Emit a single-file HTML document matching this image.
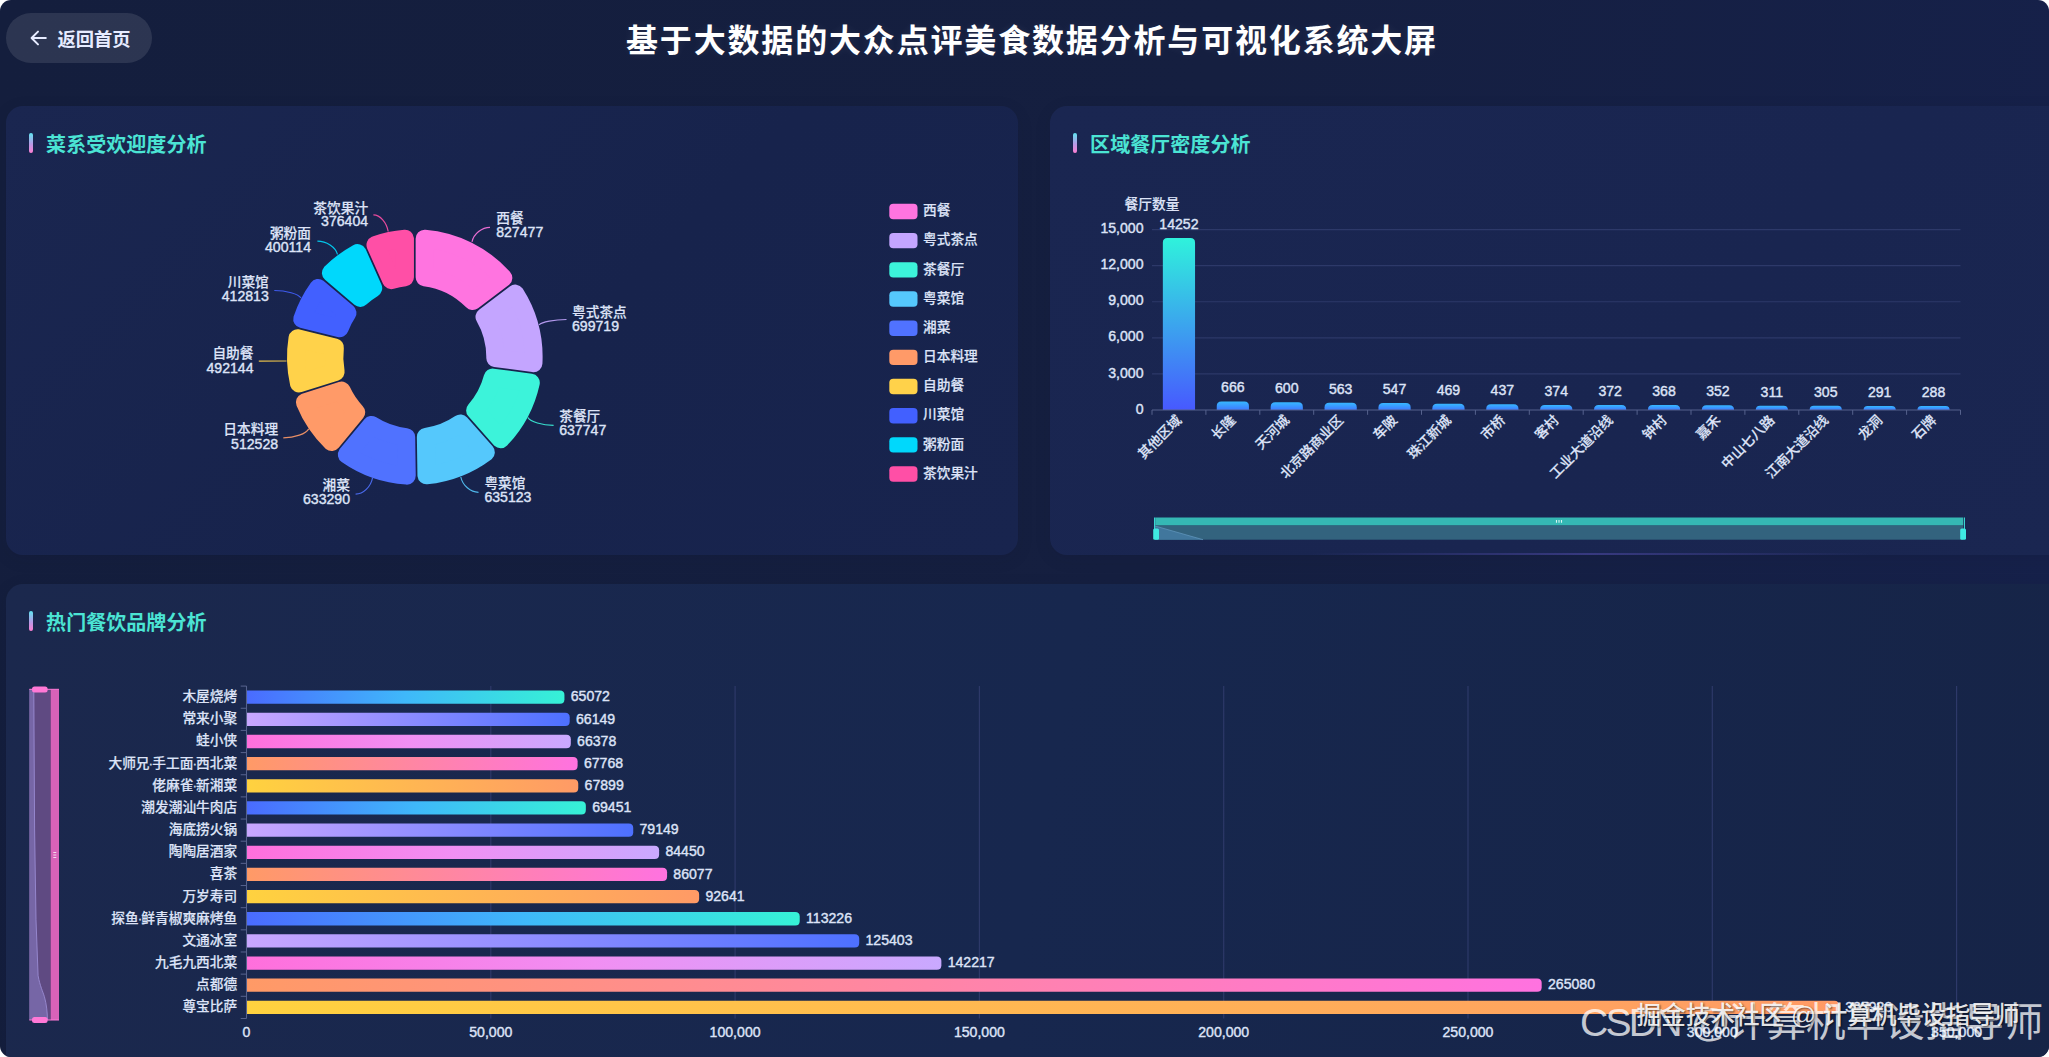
<!DOCTYPE html>
<html lang="zh-CN"><head><meta charset="utf-8"><title>基于大数据的大众点评美食数据分析与可视化系统大屏</title>
<style>
html,body{margin:0;padding:0;background:#fff;}
body{width:2049px;height:1057px;overflow:hidden;font-family:"Liberation Sans","Noto Sans CJK SC",sans-serif;}
#app{position:absolute;left:0;top:0;width:2049px;height:1057px;overflow:hidden;border-radius:11px;background:linear-gradient(100deg,#141e3d 0%,#151f40 55%,#16214b 100%);}
.panel{position:absolute;border-radius:17px;box-shadow:0 4px 18px rgba(8,12,36,0.08);}
#p1{left:6px;top:106px;width:1012px;height:449px;background:linear-gradient(135deg,#1a2650 0%,#17234c 55%,#18244e 100%);}
#p2{left:1050px;top:106px;width:1016px;height:449px;background:linear-gradient(135deg,#1a2651 0%,#192550 60%,#1a2651 100%);}
#p3{left:6px;top:584px;width:2060px;height:520px;background:linear-gradient(100deg,#1b284d 0%,#17274e 50%,#162447 100%);}
.pt{position:absolute;left:22.5px;top:26.8px;height:20.5px;padding-left:17.6px;font-size:20px;line-height:25.4px;font-weight:700;color:#4be4d4;white-space:nowrap;letter-spacing:0.05px;}
.pt:before{content:"";position:absolute;left:0;top:0;width:4.9px;height:20.5px;border-radius:2.5px;background:linear-gradient(180deg,#5fe6f2 0%,#b79be6 55%,#ff7ed2 100%);}
#back{position:absolute;left:6px;top:13px;width:146px;height:50px;border-radius:25px;background:rgba(255,255,255,0.105);color:#e6ebff;font-size:18.3px;font-weight:700;line-height:50px;}
#back span{position:absolute;left:51.4px;top:1.8px;white-space:nowrap;}
#back svg{position:absolute;left:24px;top:17px;}
#title{position:absolute;left:0;top:16.6px;width:2064px;text-align:center;font-size:32px;line-height:48px;font-weight:700;color:#fff;letter-spacing:1.83px;white-space:nowrap;text-shadow:0 0 8px rgba(255,255,255,0.07);}
svg text{font-family:"Liberation Sans","Noto Sans CJK SC",sans-serif;}
svg .c{font-size:13.7px;font-weight:500;stroke:#dde3f7;stroke-width:0.18px;}
svg .n{font-size:14.1px;stroke:#dde3f7;stroke-width:0.4px;}
#chart{position:absolute;left:0;top:0;}
.wm1{position:absolute;left:1580px;top:995.2px;font-size:39.2px;line-height:54px;color:rgba(255,255,255,0.77);white-space:nowrap;}
.wm1 .l{letter-spacing:-2.8px;}
.wm1 .z{margin-left:-3.5px;font-size:39.55px;}
.wm2{position:absolute;left:1636.6px;top:997.6px;font-size:24.6px;line-height:36px;font-weight:500;color:rgba(255,255,255,0.88);white-space:nowrap;text-shadow:1px 1px 2px rgba(0,0,0,0.6);}
</style></head><body>
<div id="app">
<div id="back"><svg width="18" height="16" viewBox="0 0 18 16"><path d="M15.8 8H2.2M8 1.6L1.6 8L8 14.4" fill="none" stroke="#e6ebff" stroke-width="2" stroke-linecap="round" stroke-linejoin="round"/></svg><span>返回首页</span></div>
<div id="title">基于大数据的大众点评美食数据分析与可视化系统大屏</div>
<div class="panel" id="p1"><div class="pt">菜系受欢迎度分析</div></div>
<div class="panel" id="p2"><div class="pt">区域餐厅密度分析</div></div>
<div style="position:absolute;left:1310px;top:553.4px;width:560px;height:1.6px;background:linear-gradient(90deg,rgba(120,100,230,0),rgba(120,100,230,0.32) 50%,rgba(120,100,230,0));"></div>
<div class="panel" id="p3"><div class="pt">热门餐饮品牌分析</div></div>
<svg id="chart" width="2049" height="1057" viewBox="0 0 2049 1057">
<defs>
<linearGradient id="gB" x1="0" y1="0" x2="0" y2="1"><stop offset="0" stop-color="#2ff2dc"/><stop offset="1" stop-color="#4759ff"/></linearGradient>
<linearGradient id="gS" x1="0" y1="0" x2="0" y2="1"><stop offset="0" stop-color="#36b8ff"/><stop offset="1" stop-color="#3f78ff"/></linearGradient>
<linearGradient id="h0" x1="0" y1="0" x2="1" y2="0"><stop offset="0" stop-color="#4a6bff"/><stop offset="0.5" stop-color="#3fb8fa"/><stop offset="1" stop-color="#36f2d6"/></linearGradient>
<linearGradient id="h1" x1="0" y1="0" x2="1" y2="0"><stop offset="0" stop-color="#c9a7ff"/><stop offset="1" stop-color="#4d70ff"/></linearGradient>
<linearGradient id="h2" x1="0" y1="0" x2="1" y2="0"><stop offset="0" stop-color="#ff6fdc"/><stop offset="0.5" stop-color="#f18ff3"/><stop offset="1" stop-color="#c9a9ff"/></linearGradient>
<linearGradient id="h3" x1="0" y1="0" x2="1" y2="0"><stop offset="0" stop-color="#ff9a66"/><stop offset="1" stop-color="#ff72e0"/></linearGradient>
<linearGradient id="h4" x1="0" y1="0" x2="1" y2="0"><stop offset="0" stop-color="#ffd23f"/><stop offset="1" stop-color="#ff9a66"/></linearGradient>
</defs>
<g id="pie">
<path d="M424.65 238.71A118.8 118.8 0 0 1 503.34 277.89L472.62 301.09A80.5 80.5 0 0 0 424.65 277.2Z" fill="#ff74e0" stroke="#ff74e0" stroke-width="18" stroke-linejoin="round"/>
<path d="M515.21 293.61A118.8 118.8 0 0 1 533.44 363.2L495.29 358.04A80.5 80.5 0 0 0 484.49 316.81Z" fill="#c4a5ff" stroke="#c4a5ff" stroke-width="18" stroke-linejoin="round"/>
<path d="M530.8 382.72A118.8 118.8 0 0 1 500.63 439.24L475.12 410.41A80.5 80.5 0 0 0 492.66 377.57Z" fill="#3cf3da" stroke="#3cf3da" stroke-width="18" stroke-linejoin="round"/>
<path d="M485.87 452.29A118.8 118.8 0 0 1 426.45 475.33L425.86 436.84A80.5 80.5 0 0 0 460.36 423.46Z" fill="#55c8fc" stroke="#55c8fc" stroke-width="18" stroke-linejoin="round"/>
<path d="M406.75 475.63A118.8 118.8 0 0 1 346.85 454.55L371.41 424.91A80.5 80.5 0 0 0 406.17 437.14Z" fill="#5072ff" stroke="#5072ff" stroke-width="18" stroke-linejoin="round"/>
<path d="M331.68 441.98A118.8 118.8 0 0 1 304.9 402.23L341.61 390.61A80.5 80.5 0 0 0 356.24 412.34Z" fill="#ff9a68" stroke="#ff9a68" stroke-width="18" stroke-linejoin="round"/>
<path d="M298.96 383.45A118.8 118.8 0 0 1 297.51 338.19L334.88 347.45A80.5 80.5 0 0 0 335.66 371.83Z" fill="#ffd24a" stroke="#ffd24a" stroke-width="18" stroke-linejoin="round"/>
<path d="M302.25 319.07A118.8 118.8 0 0 1 318.16 288L347.51 312.91A80.5 80.5 0 0 0 339.62 328.33Z" fill="#4260ff" stroke="#4260ff" stroke-width="18" stroke-linejoin="round"/>
<path d="M330.91 272.98A118.8 118.8 0 0 1 357.5 253.03L373.21 288.18A80.5 80.5 0 0 0 360.26 297.89Z" fill="#00d8fc" stroke="#00d8fc" stroke-width="18" stroke-linejoin="round"/>
<path d="M375.49 244.99A118.8 118.8 0 0 1 404.95 238.71L404.95 277.2A80.5 80.5 0 0 0 391.2 280.14Z" fill="#ff4fa6" stroke="#ff4fa6" stroke-width="18" stroke-linejoin="round"/>
</g>
<g id="pielabels" fill="#dde3f7">
<path d="M490 227.3C481.9 227.3 473.8 233.83 472 241.8" fill="none" stroke="#ff74e0" stroke-width="1.2" opacity="0.9"/>
<text x="496.2" y="222.8" text-anchor="start" class="c">西餐</text>
<text x="496.2" y="237.4" text-anchor="start" class="n">827477</text>
<path d="M566.5 319.5C554.17 319.5 541.84 321.88 539.1 324.8" fill="none" stroke="#c4a5ff" stroke-width="1.2" opacity="0.9"/>
<text x="572" y="316.7" text-anchor="start" class="c">粤式茶点</text>
<text x="572" y="330.7" text-anchor="start" class="n">699719</text>
<path d="M553.6 425.3C542.03 425.3 530.47 421.79 527.9 417.5" fill="none" stroke="#3cf3da" stroke-width="1.2" opacity="0.9"/>
<text x="559.2" y="420.5" text-anchor="start" class="c">茶餐厅</text>
<text x="559.2" y="435.2" text-anchor="start" class="n">637747</text>
<path d="M478.5 492.3C470.54 492.3 462.57 485.42 460.8 477" fill="none" stroke="#55c8fc" stroke-width="1.2" opacity="0.9"/>
<text x="484.4" y="488.2" text-anchor="start" class="c">粤菜馆</text>
<text x="484.4" y="502.4" text-anchor="start" class="n">635123</text>
<path d="M355.6 494.1C363.21 494.1 370.81 486.86 372.5 478" fill="none" stroke="#5072ff" stroke-width="1.2" opacity="0.9"/>
<text x="350" y="489.7" text-anchor="end" class="c">湘菜</text>
<text x="350" y="503.7" text-anchor="end" class="n">633290</text>
<path d="M283.3 437.8C294.73 437.8 306.16 433.8 308.7 428.9" fill="none" stroke="#ff9a68" stroke-width="1.2" opacity="0.9"/>
<text x="278.1" y="434.2" text-anchor="end" class="c">日本料理</text>
<text x="278.1" y="448.5" text-anchor="end" class="n">512528</text>
<path d="M258.8 361.1C271.26 361.1 283.73 361.06 286.5 361" fill="none" stroke="#ffd24a" stroke-width="1.2" opacity="0.9"/>
<text x="253.5" y="358.4" text-anchor="end" class="c">自助餐</text>
<text x="253.5" y="372.6" text-anchor="end" class="n">492144</text>
<path d="M274.3 290.5C286.31 290.5 298.33 293.88 301 298" fill="none" stroke="#4260ff" stroke-width="1.2" opacity="0.9"/>
<text x="268.8" y="287.2" text-anchor="end" class="c">川菜馆</text>
<text x="268.8" y="301.3" text-anchor="end" class="n">412813</text>
<path d="M317.4 241.1C326.44 241.1 335.49 247.04 337.5 254.3" fill="none" stroke="#00d8fc" stroke-width="1.2" opacity="0.9"/>
<text x="311" y="237.6" text-anchor="end" class="c">粥粉面</text>
<text x="311" y="251.9" text-anchor="end" class="n">400114</text>
<path d="M373.4 214.9C380.06 214.9 386.72 222.37 388.2 231.5" fill="none" stroke="#ff4fa6" stroke-width="1.2" opacity="0.9"/>
<text x="368.1" y="212.7" text-anchor="end" class="c">茶饮果汁</text>
<text x="368.1" y="226.2" text-anchor="end" class="n">376404</text>
</g>
<g id="legend">
<rect x="889.3" y="203.8" width="28.2" height="15.4" rx="4" fill="#ff74e0"/>
<text x="923" y="215.2" class="c" fill="#dde3f7">西餐</text>
<rect x="889.3" y="232.97" width="28.2" height="15.4" rx="4" fill="#c4a5ff"/>
<text x="923" y="244.37" class="c" fill="#dde3f7">粤式茶点</text>
<rect x="889.3" y="262.14" width="28.2" height="15.4" rx="4" fill="#3cf3da"/>
<text x="923" y="273.54" class="c" fill="#dde3f7">茶餐厅</text>
<rect x="889.3" y="291.31" width="28.2" height="15.4" rx="4" fill="#55c8fc"/>
<text x="923" y="302.71" class="c" fill="#dde3f7">粤菜馆</text>
<rect x="889.3" y="320.48" width="28.2" height="15.4" rx="4" fill="#5072ff"/>
<text x="923" y="331.88" class="c" fill="#dde3f7">湘菜</text>
<rect x="889.3" y="349.65" width="28.2" height="15.4" rx="4" fill="#ff9a68"/>
<text x="923" y="361.05" class="c" fill="#dde3f7">日本料理</text>
<rect x="889.3" y="378.82" width="28.2" height="15.4" rx="4" fill="#ffd24a"/>
<text x="923" y="390.22" class="c" fill="#dde3f7">自助餐</text>
<rect x="889.3" y="407.99" width="28.2" height="15.4" rx="4" fill="#4260ff"/>
<text x="923" y="419.39" class="c" fill="#dde3f7">川菜馆</text>
<rect x="889.3" y="437.16" width="28.2" height="15.4" rx="4" fill="#00d8fc"/>
<text x="923" y="448.56" class="c" fill="#dde3f7">粥粉面</text>
<rect x="889.3" y="466.33" width="28.2" height="15.4" rx="4" fill="#ff4fa6"/>
<text x="923" y="477.73" class="c" fill="#dde3f7">茶饮果汁</text>
</g>
<g id="bar1">
<text x="1143.5" y="413.6" text-anchor="end" class="n" fill="#dde3f7">0</text>
<line x1="1152" x2="1960.5" y1="373.92" y2="373.92" stroke="#2d3969" stroke-width="1.2"/>
<text x="1143.5" y="377.52" text-anchor="end" class="n" fill="#dde3f7">3,000</text>
<line x1="1152" x2="1960.5" y1="337.84" y2="337.84" stroke="#2d3969" stroke-width="1.2"/>
<text x="1143.5" y="341.44" text-anchor="end" class="n" fill="#dde3f7">6,000</text>
<line x1="1152" x2="1960.5" y1="301.76" y2="301.76" stroke="#2d3969" stroke-width="1.2"/>
<text x="1143.5" y="305.36" text-anchor="end" class="n" fill="#dde3f7">9,000</text>
<line x1="1152" x2="1960.5" y1="265.68" y2="265.68" stroke="#2d3969" stroke-width="1.2"/>
<text x="1143.5" y="269.28" text-anchor="end" class="n" fill="#dde3f7">12,000</text>
<line x1="1152" x2="1960.5" y1="229.6" y2="229.6" stroke="#2d3969" stroke-width="1.2"/>
<text x="1143.5" y="233.2" text-anchor="end" class="n" fill="#dde3f7">15,000</text>
<text x="1152" y="209.2" text-anchor="middle" class="c" fill="#dde3f7">餐厅数量</text>
<path d="M1162.85 410L1162.85 242.7Q1162.85 238.1 1167.45 238.1L1190.45 238.1Q1195.05 238.1 1195.05 242.7L1195.05 410Z" fill="url(#gB)"/>
<text x="1178.95" y="229.1" text-anchor="middle" class="n" fill="#dde3f7">14252</text>
<text transform="translate(1178.95 417.6) rotate(-45)" text-anchor="end" y="5" class="c" fill="#dde3f7">其他区域</text>
<path d="M1216.75 410L1216.75 406.09Q1216.75 401.49 1221.35 401.49L1244.35 401.49Q1248.95 401.49 1248.95 406.09L1248.95 410Z" fill="url(#gS)"/>
<text x="1232.85" y="392.49" text-anchor="middle" class="n" fill="#dde3f7">666</text>
<text transform="translate(1232.85 417.6) rotate(-45)" text-anchor="end" y="5" class="c" fill="#dde3f7">长隆</text>
<path d="M1270.65 410L1270.65 406.88Q1270.65 402.28 1275.25 402.28L1298.25 402.28Q1302.85 402.28 1302.85 406.88L1302.85 410Z" fill="url(#gS)"/>
<text x="1286.75" y="393.28" text-anchor="middle" class="n" fill="#dde3f7">600</text>
<text transform="translate(1286.75 417.6) rotate(-45)" text-anchor="end" y="5" class="c" fill="#dde3f7">天河城</text>
<path d="M1324.55 410L1324.55 407.33Q1324.55 402.73 1329.15 402.73L1352.15 402.73Q1356.75 402.73 1356.75 407.33L1356.75 410Z" fill="url(#gS)"/>
<text x="1340.65" y="393.73" text-anchor="middle" class="n" fill="#dde3f7">563</text>
<text transform="translate(1340.65 417.6) rotate(-45)" text-anchor="end" y="5" class="c" fill="#dde3f7">北京路商业区</text>
<path d="M1378.45 410L1378.45 407.52Q1378.45 402.92 1383.05 402.92L1406.05 402.92Q1410.65 402.92 1410.65 407.52L1410.65 410Z" fill="url(#gS)"/>
<text x="1394.55" y="393.92" text-anchor="middle" class="n" fill="#dde3f7">547</text>
<text transform="translate(1394.55 417.6) rotate(-45)" text-anchor="end" y="5" class="c" fill="#dde3f7">车陂</text>
<path d="M1432.35 410L1432.35 408.46Q1432.35 403.86 1436.95 403.86L1459.95 403.86Q1464.55 403.86 1464.55 408.46L1464.55 410Z" fill="url(#gS)"/>
<text x="1448.45" y="394.86" text-anchor="middle" class="n" fill="#dde3f7">469</text>
<text transform="translate(1448.45 417.6) rotate(-45)" text-anchor="end" y="5" class="c" fill="#dde3f7">珠江新城</text>
<path d="M1486.25 410L1486.25 408.84Q1486.25 404.24 1490.85 404.24L1513.85 404.24Q1518.45 404.24 1518.45 408.84L1518.45 410Z" fill="url(#gS)"/>
<text x="1502.35" y="395.24" text-anchor="middle" class="n" fill="#dde3f7">437</text>
<text transform="translate(1502.35 417.6) rotate(-45)" text-anchor="end" y="5" class="c" fill="#dde3f7">市桥</text>
<path d="M1540.15 410L1540.15 409.6Q1540.15 405 1544.75 405L1567.75 405Q1572.35 405 1572.35 409.6L1572.35 410Z" fill="url(#gS)"/>
<text x="1556.25" y="396" text-anchor="middle" class="n" fill="#dde3f7">374</text>
<text transform="translate(1556.25 417.6) rotate(-45)" text-anchor="end" y="5" class="c" fill="#dde3f7">客村</text>
<path d="M1594.05 410L1594.05 409.63Q1594.05 405.03 1598.65 405.03L1621.65 405.03Q1626.25 405.03 1626.25 409.63L1626.25 410Z" fill="url(#gS)"/>
<text x="1610.15" y="396.03" text-anchor="middle" class="n" fill="#dde3f7">372</text>
<text transform="translate(1610.15 417.6) rotate(-45)" text-anchor="end" y="5" class="c" fill="#dde3f7">工业大道沿线</text>
<path d="M1647.95 410L1647.95 409.67Q1647.95 405.07 1652.55 405.07L1675.55 405.07Q1680.15 405.07 1680.15 409.67L1680.15 410Z" fill="url(#gS)"/>
<text x="1664.05" y="396.07" text-anchor="middle" class="n" fill="#dde3f7">368</text>
<text transform="translate(1664.05 417.6) rotate(-45)" text-anchor="end" y="5" class="c" fill="#dde3f7">钟村</text>
<path d="M1701.85 410L1701.85 409.87Q1701.85 405.27 1706.45 405.27L1729.45 405.27Q1734.05 405.27 1734.05 409.87L1734.05 410Z" fill="url(#gS)"/>
<text x="1717.95" y="396.27" text-anchor="middle" class="n" fill="#dde3f7">352</text>
<text transform="translate(1717.95 417.6) rotate(-45)" text-anchor="end" y="5" class="c" fill="#dde3f7">嘉禾</text>
<path d="M1755.75 410L1755.75 410Q1755.75 405.76 1759.99 405.76L1783.71 405.76Q1787.95 405.76 1787.95 410L1787.95 410Z" fill="url(#gS)"/>
<text x="1771.85" y="396.76" text-anchor="middle" class="n" fill="#dde3f7">311</text>
<text transform="translate(1771.85 417.6) rotate(-45)" text-anchor="end" y="5" class="c" fill="#dde3f7">中山七八路</text>
<path d="M1809.65 410L1809.65 410Q1809.65 405.83 1813.82 405.83L1837.68 405.83Q1841.85 405.83 1841.85 410L1841.85 410Z" fill="url(#gS)"/>
<text x="1825.75" y="396.83" text-anchor="middle" class="n" fill="#dde3f7">305</text>
<text transform="translate(1825.75 417.6) rotate(-45)" text-anchor="end" y="5" class="c" fill="#dde3f7">江南大道沿线</text>
<path d="M1863.55 410L1863.55 410Q1863.55 406 1867.55 406L1891.75 406Q1895.75 406 1895.75 410L1895.75 410Z" fill="url(#gS)"/>
<text x="1879.65" y="397" text-anchor="middle" class="n" fill="#dde3f7">291</text>
<text transform="translate(1879.65 417.6) rotate(-45)" text-anchor="end" y="5" class="c" fill="#dde3f7">龙洞</text>
<path d="M1917.45 410L1917.45 410Q1917.45 406.04 1921.41 406.04L1945.69 406.04Q1949.65 406.04 1949.65 410L1949.65 410Z" fill="url(#gS)"/>
<text x="1933.55" y="397.04" text-anchor="middle" class="n" fill="#dde3f7">288</text>
<text transform="translate(1933.55 417.6) rotate(-45)" text-anchor="end" y="5" class="c" fill="#dde3f7">石牌</text>
<line x1="1152" x2="1960.5" y1="410" y2="410" stroke="#55618c" stroke-width="1.05"/>
<line x1="1152" x2="1152" y1="410" y2="414.8" stroke="#56628d" stroke-width="1"/>
<line x1="1205.9" x2="1205.9" y1="410" y2="414.8" stroke="#56628d" stroke-width="1"/>
<line x1="1259.8" x2="1259.8" y1="410" y2="414.8" stroke="#56628d" stroke-width="1"/>
<line x1="1313.7" x2="1313.7" y1="410" y2="414.8" stroke="#56628d" stroke-width="1"/>
<line x1="1367.6" x2="1367.6" y1="410" y2="414.8" stroke="#56628d" stroke-width="1"/>
<line x1="1421.5" x2="1421.5" y1="410" y2="414.8" stroke="#56628d" stroke-width="1"/>
<line x1="1475.4" x2="1475.4" y1="410" y2="414.8" stroke="#56628d" stroke-width="1"/>
<line x1="1529.3" x2="1529.3" y1="410" y2="414.8" stroke="#56628d" stroke-width="1"/>
<line x1="1583.2" x2="1583.2" y1="410" y2="414.8" stroke="#56628d" stroke-width="1"/>
<line x1="1637.1" x2="1637.1" y1="410" y2="414.8" stroke="#56628d" stroke-width="1"/>
<line x1="1691" x2="1691" y1="410" y2="414.8" stroke="#56628d" stroke-width="1"/>
<line x1="1744.9" x2="1744.9" y1="410" y2="414.8" stroke="#56628d" stroke-width="1"/>
<line x1="1798.8" x2="1798.8" y1="410" y2="414.8" stroke="#56628d" stroke-width="1"/>
<line x1="1852.7" x2="1852.7" y1="410" y2="414.8" stroke="#56628d" stroke-width="1"/>
<line x1="1906.6" x2="1906.6" y1="410" y2="414.8" stroke="#56628d" stroke-width="1"/>
<line x1="1960.5" x2="1960.5" y1="410" y2="414.8" stroke="#56628d" stroke-width="1"/>
<rect x="1155" y="525.3" width="808" height="14.4" fill="#33637e"/>
<path d="M1155 526L1203 539.7L1155 539.7Z" fill="#41779d"/>
<path d="M1155 526L1203 539.7" stroke="#5e94bb" stroke-width="0.8" fill="none"/>
<rect x="1155.2" y="517.5" width="808" height="7.8" fill="#35b8b4"/>
<rect x="1153.2" y="528.6" width="5.8" height="11.1" rx="1.5" fill="#3fe9e2"/>
<rect x="1960.2" y="528.6" width="5.8" height="11.1" rx="1.5" fill="#3fe9e2"/>
<path d="M1154.6 517.5V529M1964.4 517.5V529" stroke="#3fe9e2" stroke-width="1"/>
<path d="M1556.5 520V522.8M1559 520V522.8M1561.5 520V522.8" stroke="#d8f6f4" stroke-width="1.1"/>
</g>
<g id="bar2">
<line x1="490.8" x2="490.8" y1="686.1" y2="1018.46" stroke="#2d3969" stroke-width="1.2"/>
<line x1="735.1" x2="735.1" y1="686.1" y2="1018.46" stroke="#2d3969" stroke-width="1.2"/>
<line x1="979.4" x2="979.4" y1="686.1" y2="1018.46" stroke="#2d3969" stroke-width="1.2"/>
<line x1="1223.7" x2="1223.7" y1="686.1" y2="1018.46" stroke="#2d3969" stroke-width="1.2"/>
<line x1="1468" x2="1468" y1="686.1" y2="1018.46" stroke="#2d3969" stroke-width="1.2"/>
<line x1="1712.3" x2="1712.3" y1="686.1" y2="1018.46" stroke="#2d3969" stroke-width="1.2"/>
<line x1="1956.6" x2="1956.6" y1="686.1" y2="1018.46" stroke="#2d3969" stroke-width="1.2"/>
<text x="246.5" y="1037.2" text-anchor="middle" class="n" fill="#dde3f7">0</text>
<text x="490.8" y="1037.2" text-anchor="middle" class="n" fill="#dde3f7">50,000</text>
<text x="735.1" y="1037.2" text-anchor="middle" class="n" fill="#dde3f7">100,000</text>
<text x="979.4" y="1037.2" text-anchor="middle" class="n" fill="#dde3f7">150,000</text>
<text x="1223.7" y="1037.2" text-anchor="middle" class="n" fill="#dde3f7">200,000</text>
<text x="1468" y="1037.2" text-anchor="middle" class="n" fill="#dde3f7">250,000</text>
<text x="1712.3" y="1037.2" text-anchor="middle" class="n" fill="#dde3f7">300,000</text>
<text x="1956.6" y="1037.2" text-anchor="middle" class="n" fill="#dde3f7">350,000</text>
<path d="M246.5 690.53H559.94Q564.44 690.53 564.44 695.03V699.33Q564.44 703.83 559.94 703.83H246.5Z" fill="url(#h0)"/>
<text x="237.2" y="701.18" text-anchor="end" class="c" fill="#dde3f7">木屋烧烤</text>
<text x="570.74" y="701.38" class="n" fill="#dde3f7">65072</text>
<path d="M246.5 712.69H565.2Q569.7 712.69 569.7 717.19V721.49Q569.7 725.99 565.2 725.99H246.5Z" fill="url(#h1)"/>
<text x="237.2" y="723.34" text-anchor="end" class="c" fill="#dde3f7">常来小聚</text>
<text x="576" y="723.54" class="n" fill="#dde3f7">66149</text>
<path d="M246.5 734.84H566.32Q570.82 734.84 570.82 739.34V743.64Q570.82 748.14 566.32 748.14H246.5Z" fill="url(#h2)"/>
<text x="237.2" y="745.49" text-anchor="end" class="c" fill="#dde3f7">蛙小侠</text>
<text x="577.12" y="745.69" class="n" fill="#dde3f7">66378</text>
<path d="M246.5 757H573.11Q577.61 757 577.61 761.5V765.8Q577.61 770.3 573.11 770.3H246.5Z" fill="url(#h3)"/>
<text x="237.2" y="767.65" text-anchor="end" class="c" fill="#dde3f7">大师兄<tspan dx="-0.9">·</tspan><tspan dx="-0.9">手工面</tspan><tspan dx="-0.9">·</tspan><tspan dx="-0.9">西北菜</tspan></text>
<text x="583.91" y="767.85" class="n" fill="#dde3f7">67768</text>
<path d="M246.5 779.16H573.75Q578.25 779.16 578.25 783.66V787.96Q578.25 792.46 573.75 792.46H246.5Z" fill="url(#h4)"/>
<text x="237.2" y="789.81" text-anchor="end" class="c" fill="#dde3f7">佬麻雀<tspan dx="-0.9">·</tspan><tspan dx="-0.9">新湘菜</tspan></text>
<text x="584.55" y="790.01" class="n" fill="#dde3f7">67899</text>
<path d="M246.5 801.31H581.34Q585.84 801.31 585.84 805.81V810.11Q585.84 814.61 581.34 814.61H246.5Z" fill="url(#h0)"/>
<text x="237.2" y="811.96" text-anchor="end" class="c" fill="#dde3f7">潮发潮汕牛肉店</text>
<text x="592.14" y="812.16" class="n" fill="#dde3f7">69451</text>
<path d="M246.5 823.47H628.72Q633.22 823.47 633.22 827.97V832.27Q633.22 836.77 628.72 836.77H246.5Z" fill="url(#h1)"/>
<text x="237.2" y="834.12" text-anchor="end" class="c" fill="#dde3f7">海底捞火锅</text>
<text x="639.52" y="834.32" class="n" fill="#dde3f7">79149</text>
<path d="M246.5 845.63H654.62Q659.12 845.63 659.12 850.13V854.43Q659.12 858.93 654.62 858.93H246.5Z" fill="url(#h2)"/>
<text x="237.2" y="856.28" text-anchor="end" class="c" fill="#dde3f7">陶陶居酒家</text>
<text x="665.42" y="856.48" class="n" fill="#dde3f7">84450</text>
<path d="M246.5 867.78H662.57Q667.07 867.78 667.07 872.28V876.58Q667.07 881.08 662.57 881.08H246.5Z" fill="url(#h3)"/>
<text x="237.2" y="878.43" text-anchor="end" class="c" fill="#dde3f7">喜茶</text>
<text x="673.37" y="878.63" class="n" fill="#dde3f7">86077</text>
<path d="M246.5 889.94H694.64Q699.14 889.94 699.14 894.44V898.74Q699.14 903.24 694.64 903.24H246.5Z" fill="url(#h4)"/>
<text x="237.2" y="900.59" text-anchor="end" class="c" fill="#dde3f7">万岁寿司</text>
<text x="705.44" y="900.79" class="n" fill="#dde3f7">92641</text>
<path d="M246.5 912.1H795.22Q799.72 912.1 799.72 916.6V920.9Q799.72 925.4 795.22 925.4H246.5Z" fill="url(#h0)"/>
<text x="237.2" y="922.75" text-anchor="end" class="c" fill="#dde3f7">探鱼<tspan dx="-0.9">·</tspan><tspan dx="-0.9">鲜青椒爽麻烤鱼</tspan></text>
<text x="806.02" y="922.95" class="n" fill="#dde3f7">113226</text>
<path d="M246.5 934.26H854.72Q859.22 934.26 859.22 938.76V943.06Q859.22 947.56 854.72 947.56H246.5Z" fill="url(#h1)"/>
<text x="237.2" y="944.91" text-anchor="end" class="c" fill="#dde3f7">文通冰室</text>
<text x="865.52" y="945.11" class="n" fill="#dde3f7">125403</text>
<path d="M246.5 956.41H936.87Q941.37 956.41 941.37 960.91V965.21Q941.37 969.71 936.87 969.71H246.5Z" fill="url(#h2)"/>
<text x="237.2" y="967.06" text-anchor="end" class="c" fill="#dde3f7">九毛九西北菜</text>
<text x="947.67" y="967.26" class="n" fill="#dde3f7">142217</text>
<path d="M246.5 978.57H1537.18Q1541.68 978.57 1541.68 983.07V987.37Q1541.68 991.87 1537.18 991.87H246.5Z" fill="url(#h3)"/>
<text x="237.2" y="989.22" text-anchor="end" class="c" fill="#dde3f7">点都德</text>
<text x="1547.98" y="989.42" class="n" fill="#dde3f7">265080</text>
<path d="M246.5 1000.73H1834.46Q1838.96 1000.73 1838.96 1005.23V1009.53Q1838.96 1014.03 1834.46 1014.03H246.5Z" fill="url(#h4)"/>
<text x="237.2" y="1011.38" text-anchor="end" class="c" fill="#dde3f7">尊宝比萨</text>
<text x="1845.26" y="1011.58" class="n" fill="#dde3f7">325923</text>
<line x1="246.5" x2="246.5" y1="686.1" y2="1018.46" stroke="#55618c" stroke-width="1.05"/>
<line x1="240.7" x2="246.5" y1="686.1" y2="686.1" stroke="#55618c" stroke-width="1.05"/>
<line x1="240.7" x2="246.5" y1="708.26" y2="708.26" stroke="#55618c" stroke-width="1.05"/>
<line x1="240.7" x2="246.5" y1="730.41" y2="730.41" stroke="#55618c" stroke-width="1.05"/>
<line x1="240.7" x2="246.5" y1="752.57" y2="752.57" stroke="#55618c" stroke-width="1.05"/>
<line x1="240.7" x2="246.5" y1="774.73" y2="774.73" stroke="#55618c" stroke-width="1.05"/>
<line x1="240.7" x2="246.5" y1="796.88" y2="796.88" stroke="#55618c" stroke-width="1.05"/>
<line x1="240.7" x2="246.5" y1="819.04" y2="819.04" stroke="#55618c" stroke-width="1.05"/>
<line x1="240.7" x2="246.5" y1="841.2" y2="841.2" stroke="#55618c" stroke-width="1.05"/>
<line x1="240.7" x2="246.5" y1="863.36" y2="863.36" stroke="#55618c" stroke-width="1.05"/>
<line x1="240.7" x2="246.5" y1="885.51" y2="885.51" stroke="#55618c" stroke-width="1.05"/>
<line x1="240.7" x2="246.5" y1="907.67" y2="907.67" stroke="#55618c" stroke-width="1.05"/>
<line x1="240.7" x2="246.5" y1="929.83" y2="929.83" stroke="#55618c" stroke-width="1.05"/>
<line x1="240.7" x2="246.5" y1="951.98" y2="951.98" stroke="#55618c" stroke-width="1.05"/>
<line x1="240.7" x2="246.5" y1="974.14" y2="974.14" stroke="#55618c" stroke-width="1.05"/>
<line x1="240.7" x2="246.5" y1="996.3" y2="996.3" stroke="#55618c" stroke-width="1.05"/>
<line x1="240.7" x2="246.5" y1="1018.46" y2="1018.46" stroke="#55618c" stroke-width="1.05"/>
<rect x="29.3" y="689.3" width="21.3" height="330.7" fill="#5f4a82"/>
<path d="M29.3 689.3H33.8L34.6 830L36 919.6L38.1 975.8C40 986 43 992 44.4 996.7C46.5 1004 47.3 1012 47.5 1020H29.3Z" fill="#7666a6"/>
<path d="M33.8 689.3L34.6 830L36 919.6L38.1 975.8C40 986 43 992 44.4 996.7C46.5 1004 47.3 1012 47.5 1020" fill="none" stroke="#9a8bd2" stroke-width="0.9"/>
<rect x="50.6" y="689.3" width="8.4" height="330.7" fill="#d862b9"/>
<path d="M29.3 689.3H59M29.3 1020H59" stroke="#ff78d6" stroke-width="1"/>
<rect x="32" y="686.6" width="15.6" height="6" rx="2.5" fill="#ff78d6"/>
<rect x="32" y="1017" width="15.6" height="6" rx="2.5" fill="#ff78d6"/>
<path d="M53.3 852.5H56.3M53.3 855H56.3M53.3 857.5H56.3" stroke="#f6d6ee" stroke-width="1.1"/>
</g>
</svg>
<div class="wm1"><span class="l">CSDN</span> @<span class="z">计算机毕设指导师</span></div>
<div class="wm2">掘金技术社区 @ 计算机毕设指导师</div>
</div>
</body></html>
